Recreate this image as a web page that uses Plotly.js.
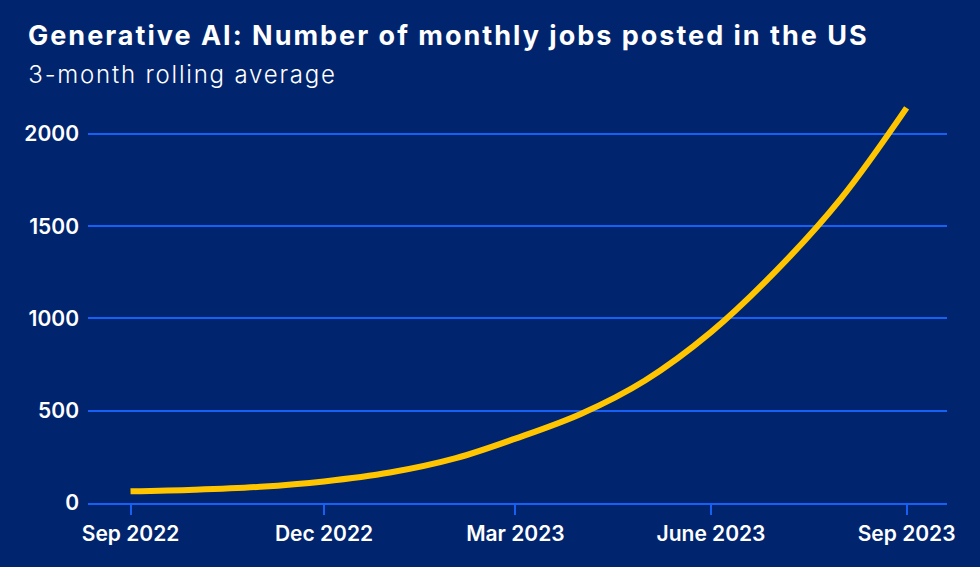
<!DOCTYPE html>
<html>
<head>
<meta charset="utf-8">
<script src="https://cdn.plot.ly/plotly-3.0.1.min.js"></script>
<style>
  html, body { margin: 0; padding: 0; background: #00256E; }
  #chart { width: 980px; height: 567px; }
  #chart .gtitle { letter-spacing: 2px; }
  #chart .annotation-text { letter-spacing: 1.8px; }
</style>
</head>
<body>
<div id="chart"></div>
<script>
const months = ['2022-09-01','2022-10-01','2022-11-01','2022-12-01','2023-01-01','2023-02-01','2023-03-01','2023-04-01','2023-05-01','2023-06-01','2023-07-01','2023-08-01','2023-09-01'];
const jobs = [63, 72, 88, 117, 165, 243, 349, 484, 664, 926, 1251, 1648, 2141];
const tickDates = ['2022-09-01','2022-12-01','2023-03-01','2023-06-01','2023-09-01'];
const tickLabels = ['Sep 2022','Dec 2022','Mar 2023','June 2023','Sep 2023'];
const yTicks = [0, 500, 1000, 1500, 2000];
const titleText = 'Generative AI: Number of monthly jobs posted in the US';
const subtitleText = '3-month rolling average';

const bg = '#00256E';
const grid = '#1760F5';
const fontFam = 'Inter, "Open Sans", sans-serif';

const trace = {
  x: months, y: jobs, type: 'scatter', mode: 'lines',
  line: {color: '#FFC600', width: 6, shape: 'spline', smoothing: 1},
  hoverinfo: 'skip', cliponaxis: false
};

const layout = {
  width: 980, height: 567,
  paper_bgcolor: bg, plot_bgcolor: bg,
  margin: {l: 88, r: 33, t: 97, b: 64},
  showlegend: false,
  title: {
    text: titleText,
    font: {family: fontFam, size: 27, color: '#ffffff', weight: 700},
    xref: 'container', yref: 'container',
    x: 28/980, xanchor: 'left', y: 1 - 36/567, yanchor: 'middle'
  },
  annotations: [{
    text: subtitleText, xref: 'paper', yref: 'paper',
    x: (28-88)/859, xanchor: 'left', y: (503-75)/406, yanchor: 'middle',
    xshift: 19,
    showarrow: false,
    font: {family: fontFam, size: 24, color: '#ffffff', weight: 300}
  }],
  xaxis: {
    type: 'date', range: ['2022-08-12', '2023-09-20'],
    tickvals: tickDates, ticktext: tickLabels,
    showgrid: false, zeroline: false,
    showline: true, linecolor: grid, linewidth: 2,
    ticks: 'outside', ticklen: 10, tickwidth: 2, tickcolor: grid,
    tickfont: {family: fontFam, size: 21, color: '#ffffff', weight: 600},
    ticklabelstandoff: 1, fixedrange: true
  },
  yaxis: {
    range: [0, 2200], tickvals: yTicks,
    showgrid: true, gridcolor: grid, gridwidth: 2,
    zeroline: false, showline: false, ticks: '',
    tickfont: {family: fontFam, size: 21, color: '#ffffff', weight: 600},
    ticklabelstandoff: 8, fixedrange: true
  }
};

Plotly.newPlot('chart', [trace], layout, {displayModeBar: false, staticPlot: true});
</script>
</body>
</html>
